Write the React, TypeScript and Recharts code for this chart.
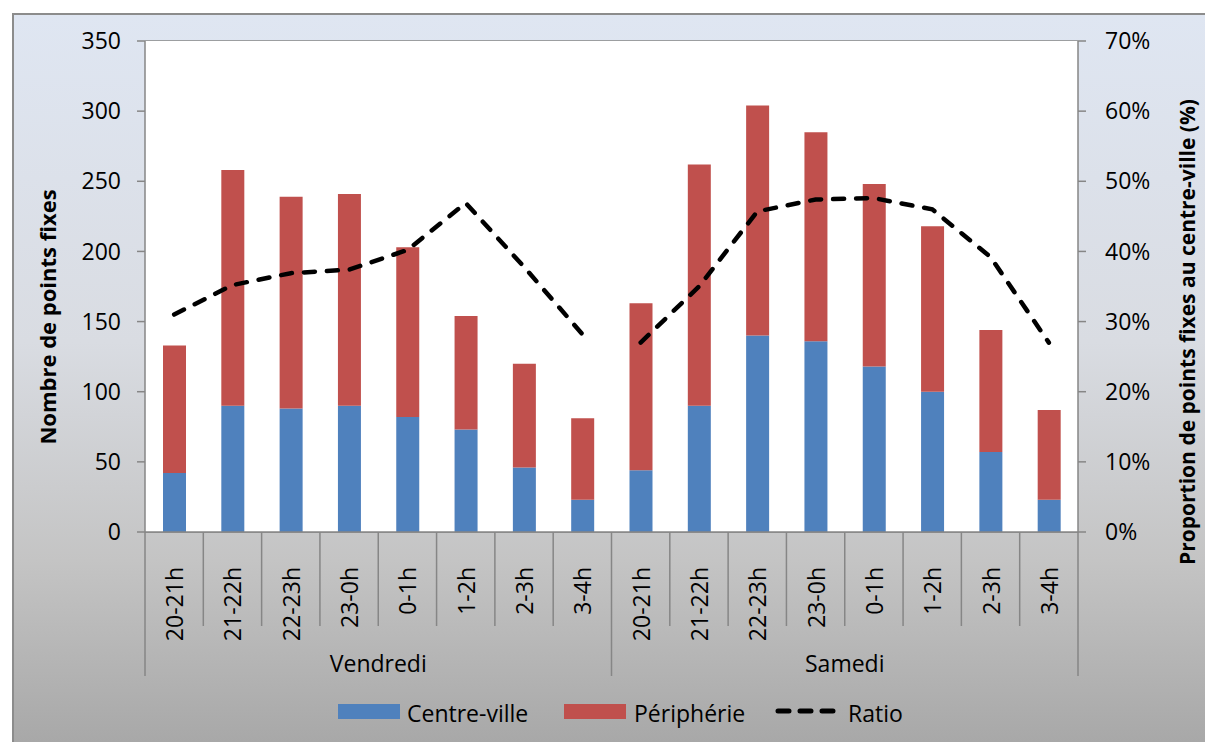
import { ComposedChart, Bar, Line, XAxis, YAxis, CartesianGrid } from 'recharts'

const DAYS = ['Vendredi', 'Samedi']
const SLOTS = ['20-21h', '21-22h', '22-23h', '23-0h', '0-1h', '1-2h', '2-3h', '3-4h']

// nombre de points fixes
const CENTRE_VEN = [42, 90, 88, 90, 82, 73, 46, 23]
const PERIPH_VEN = [91, 168, 151, 151, 121, 81, 74, 58]
const CENTRE_SAM = [44, 90, 140, 136, 118, 100, 57, 23]
const PERIPH_SAM = [119, 172, 164, 149, 130, 118, 87, 64]

// proportion au centre-ville (%)
const RATIO_VEN = [31, 35.2, 36.9, 37.4, 40.2, 46.9, 37.8, 28.2]
const RATIO_SAM = [27, 35, 45.7, 47.4, 47.6, 46, 39.2, 27]

const LEFT_TICKS = [0, 50, 100, 150, 200, 250, 300, 350]
const RIGHT_TICKS = [0, 10, 20, 30, 40, 50, 60, 70]

const rows = DAYS.flatMap((day, d) =>
  SLOTS.map((slot, s) => ({
    key: `${day}-${slot}`,
    day,
    slot,
    centre: d === 0 ? CENTRE_VEN[s] : CENTRE_SAM[s],
    periph: d === 0 ? PERIPH_VEN[s] : PERIPH_SAM[s],
    ratioVen: d === 0 ? RATIO_VEN[s] : null,
    ratioSam: d === 1 ? RATIO_SAM[s] : null,
  }))
)

const W = 1191
const H = 727
const LEFT_W = 131
const RIGHT_W = 127
const PLOT_W = W - LEFT_W - RIGHT_W
const FONT = '"Open Sans", sans-serif'
const GRID = '#868686'

function SlotTick(props: any) {
  const { x, y } = props
  const i: number = props.index ?? props.payload?.index ?? 0
  const step = PLOT_W / rows.length
  const perDay = SLOTS.length
  const left = x - step / 2
  const row = rows[i]
  return (
    <g>
      <line x1={left} x2={left} y1={y} y2={y + (i % perDay === 0 ? 144 : 94)} stroke={GRID} strokeWidth={1.5} />
      {i === rows.length - 1 && (
        <line x1={x + step / 2} x2={x + step / 2} y1={y} y2={y + 144} stroke={GRID} strokeWidth={1.5} />
      )}
      <text
        transform={`translate(${x},${y + 35}) rotate(-90)`}
        textAnchor="end"
        dominantBaseline="central"
        fontSize={23}
        fontFamily={FONT}
        fill="#000"
      >
        {row?.slot}
      </text>
      {i % perDay === perDay / 2 - 1 && (
        <text
          x={x + step / 2}
          y={y + 131}
          textAnchor="middle"
          dominantBaseline="central"
          fontSize={23}
          fontFamily={FONT}
          fill="#000"
        >
          {row?.day}
        </text>
      )}
    </g>
  )
}

export default function App() {
  const legendText = { position: 'absolute' as const, top: 683, fontSize: 23, fontFamily: FONT, color: '#000', lineHeight: '30px' }
  return (
    <div
      style={{
        position: 'absolute',
        left: 12,
        top: 13,
        width: W,
        height: H,
        borderLeft: `2px solid #8c8c8c`,
        borderTop: `2px solid #8c8c8c`,
        background: 'linear-gradient(to bottom, #dfe6f2 0%, #d9dce2 45%, #c4c4c4 75%, #a8a8a8 100%)',
      }}
    >
      <ComposedChart
        width={W}
        height={H}
        data={rows}
        margin={{ top: 26, right: 0, bottom: 0, left: 0 }}
        barCategoryGap="0%"
        style={{ fontFamily: FONT }}
      >
        <rect x={LEFT_W} y={26} width={PLOT_W} height={491} fill="#fff" />
        <CartesianGrid vertical={false} stroke={GRID} strokeWidth={1.5} yAxisId="left" fill="#fff" />
        <XAxis
          dataKey="key"
          height={H - 26 - 491}
          interval={0}
          tickLine={false}
          tickSize={0}
          tickMargin={0}
          axisLine={{ stroke: GRID, strokeWidth: 1.5 }}
          tick={<SlotTick />}
        />
        <YAxis
          yAxisId="left"
          width={LEFT_W}
          domain={[0, 350]}
          ticks={LEFT_TICKS}
          interval={0}
          tickSize={8}
          tickMargin={16}
          axisLine={{ stroke: GRID, strokeWidth: 1.5 }}
          tickLine={{ stroke: GRID, strokeWidth: 1.5 }}
          tick={{ fill: '#000', fontSize: 23, fontFamily: FONT }}
          label={{
            content: () => (
              <text
                transform="translate(33,302) rotate(-90)"
                textAnchor="middle"
                dominantBaseline="central"
                fontSize={22}
                fontWeight={700}
                fontFamily={FONT}
                fill="#000"
              >
                Nombre de points fixes
              </text>
            ),
          }}
        />
        <YAxis
          yAxisId="pct"
          orientation="right"
          width={RIGHT_W}
          domain={[0, 70]}
          ticks={RIGHT_TICKS}
          interval={0}
          tickSize={8}
          tickMargin={19}
          tickFormatter={(v) => `${v}%`}
          axisLine={{ stroke: GRID, strokeWidth: 1.5 }}
          tickLine={{ stroke: GRID, strokeWidth: 1.5 }}
          tick={{ fill: '#000', fontSize: 23, fontFamily: FONT, textAnchor: 'start' }}
          label={{
            content: () => (
              <text
                transform={`translate(${W - 18},317) rotate(-90)`}
                textAnchor="middle"
                dominantBaseline="central"
                fontSize={21}
                fontWeight={700}
                fontFamily={FONT}
                fill="#000"
              >
                Proportion de points fixes au centre-ville (%)
              </text>
            ),
          }}
        />
        <Bar yAxisId="left" dataKey="centre" stackId="s" fill="#4f81bd" barSize={23} isAnimationActive={false} />
        <Bar yAxisId="left" dataKey="periph" stackId="s" fill="#c0504d" barSize={23} isAnimationActive={false} />
        <Line
          yAxisId="pct"
          dataKey="ratioVen"
          type="linear"
          stroke="#000"
          strokeWidth={4.5}
          strokeDasharray="11 12"
          strokeLinecap="round"
          dot={false}
          activeDot={false}
          connectNulls={false}
          isAnimationActive={false}
        />
        <Line
          yAxisId="pct"
          dataKey="ratioSam"
          type="linear"
          stroke="#000"
          strokeWidth={4.5}
          strokeDasharray="11 12"
          strokeLinecap="round"
          dot={false}
          activeDot={false}
          connectNulls={false}
          isAnimationActive={false}
        />
      </ComposedChart>

      <div style={{ position: 'absolute', left: 324, top: 689, width: 62, height: 15, background: '#4f81bd' }} />
      <span style={{ ...legendText, left: 393 }}>Centre-ville</span>
      <div style={{ position: 'absolute', left: 550, top: 689, width: 62, height: 15, background: '#c0504d' }} />
      <span style={{ ...legendText, left: 620 }}>Périphérie</span>
      <svg style={{ position: 'absolute', left: 760, top: 690 }} width={64} height={12}>
        <line x1={4} x2={60} y1={6} y2={6} stroke="#000" strokeWidth={5} strokeDasharray="11 11" strokeLinecap="round" />
      </svg>
      <span style={{ ...legendText, left: 834 }}>Ratio</span>
    </div>
  )
}
